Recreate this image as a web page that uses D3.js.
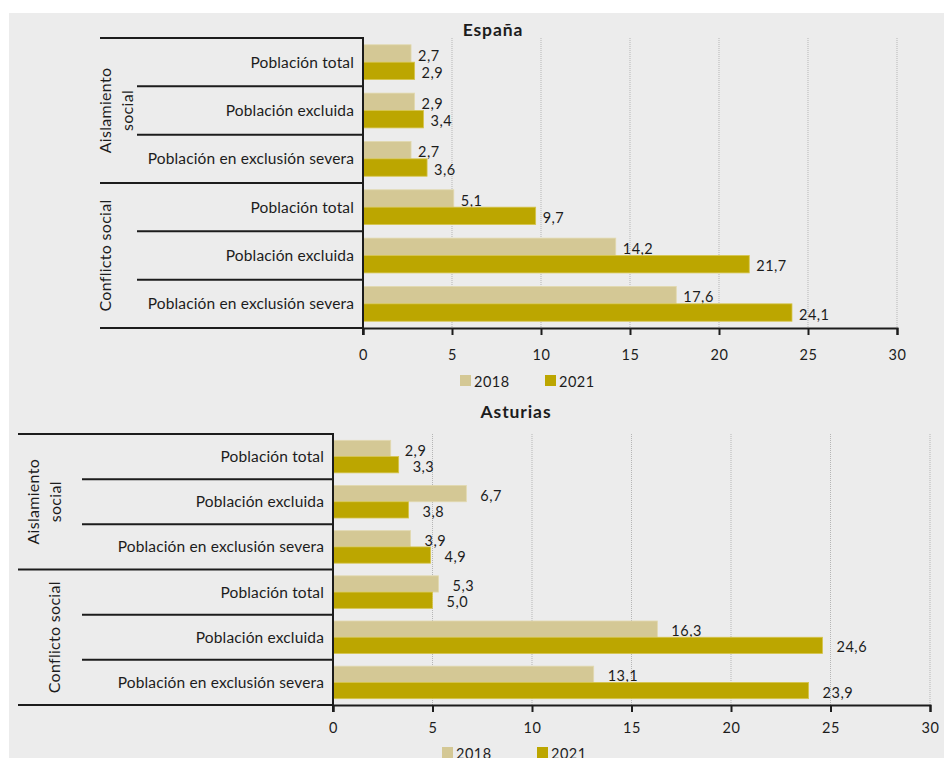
<!DOCTYPE html>
<html>
<head>
<meta charset="utf-8">
<script src="https://cdn.jsdelivr.net/npm/d3@7"></script>
<style>
  html, body { margin: 0; padding: 0; background: #ffffff; }
  svg { display: block; font-family: Lato, "Noto Sans", sans-serif; }
</style>
</head>
<body>
<svg id="chart" width="944" height="758"></svg>
<script>
// ---- Data ----
const categories = ["Población total", "Población excluida", "Población en exclusión severa"];
const groups = [["Aislamiento", "social"], ["Conflicto social"]];
const seriesNames = ["2018", "2021"];
const seriesColors = ["#d4c895", "#bca600"];
const seriesStrokes = ["#e2d9b0", "#d6c54e"];
const tickValues = [0, 5, 10, 15, 20, 25, 30];

const espana2018 = [2.7, 2.9, 2.7, 5.1, 14.2, 17.6];
const espana2021 = [2.9, 3.4, 3.6, 9.7, 21.7, 24.1];
const asturias2018 = [2.9, 6.7, 3.9, 5.3, 16.3, 13.1];
const asturias2021 = [3.3, 3.8, 4.9, 5.0, 24.6, 23.9];

// ---- Layout for each panel ----
const panels = [
  {
    title: "España", titleX: 493, titleY: 36,
    values: [espana2018, espana2021],
    x0: 363, x1: 897, y0: 38, y1: 328,
    groupX: 100, labelX: 137, labelGap: 7,
    groupLabelX: [116, 105],
    tickLabelY: 360,
    legendY: 375, legendX: [460, 545]
  },
  {
    title: "Asturias", titleX: 516, titleY: 418,
    values: [asturias2018, asturias2021],
    x0: 333, x1: 930, y0: 434, y1: 705,
    groupX: 18, labelX: 82, labelGap: 14,
    groupLabelX: [44, 54],
    tickLabelY: 733,
    legendY: 747, legendX: [442, 537]
  }
];

const locale = d3.formatLocale({ decimal: ",", thousands: ".", grouping: [3], currency: ["", "€"] });
const fmt = locale.format(".1f");

const svg = d3.select("#chart");
svg.append("rect").attr("x", 9).attr("y", 13).attr("width", 935).attr("height", 745).attr("fill", "#ececec");

const ink = "#1c1c1c";
const labelFont = 15.5, labelSpacing = 0.15;
const numFont = 14.5, numSpacing = 0.5;

panels.forEach(p => {
  const g = svg.append("g");
  const rows = d3.range(categories.length * groups.length);

  const x = d3.scaleLinear().domain([0, 30]).range([p.x0, p.x1]);
  const y = d3.scaleBand().domain(rows).range([p.y0, p.y1]).paddingInner(0.28).paddingOuter(0.14);
  const ySub = d3.scaleBand().domain([0, 1]).range([0, y.bandwidth()]);
  const rowStep = (p.y1 - p.y0) / rows.length;

  // dotted grid lines
  g.append("g").selectAll("line").data(tickValues.slice(1)).join("line")
    .attr("x1", d => x(d)).attr("x2", d => x(d))
    .attr("y1", p.y0).attr("y2", p.y1)
    .attr("stroke", "#b5b5b5").attr("stroke-width", 1).attr("stroke-dasharray", "1,1");

  // bars and value labels
  p.values.forEach((vals, si) => {
    g.append("g").selectAll("rect").data(vals).join("rect")
      .attr("x", x(0))
      .attr("y", (d, i) => y(i) + ySub(si))
      .attr("width", d => x(d) - x(0))
      .attr("height", ySub.bandwidth())
      .attr("fill", seriesColors[si])
      .attr("stroke", seriesStrokes[si]).attr("stroke-width", 0.8);

    g.append("g").selectAll("text").data(vals).join("text")
      .attr("x", d => x(d) + p.labelGap)
      .attr("y", (d, i) => y(i) + ySub(si) + ySub.bandwidth() / 2 + 2)
      .attr("dy", "0.35em")
      .attr("font-size", numFont).attr("letter-spacing", numSpacing).attr("fill", ink)
      .text(d => fmt(d));
  });

  // category row separators
  const lineStroke = 2;
  rows.forEach(i => {
    const yy = p.y0 + rowStep * (i + 1);
    const isGroupEnd = (i + 1) % categories.length === 0;
    g.append("line")
      .attr("x1", isGroupEnd ? p.groupX : p.labelX).attr("x2", p.x0)
      .attr("y1", yy).attr("y2", yy)
      .attr("stroke", ink).attr("stroke-width", lineStroke);
  });
  g.append("line")
    .attr("x1", p.groupX).attr("x2", p.x0)
    .attr("y1", p.y0).attr("y2", p.y0)
    .attr("stroke", ink).attr("stroke-width", lineStroke);

  // category labels
  g.append("g").selectAll("text").data(rows).join("text")
    .attr("x", p.x0 - 9)
    .attr("y", i => p.y0 + rowStep * (i + 0.5))
    .attr("dy", "0.35em")
    .attr("text-anchor", "end")
    .attr("font-size", labelFont).attr("letter-spacing", labelSpacing).attr("fill", ink)
    .text(i => categories[i % categories.length]);

  // group labels (rotated)
  groups.forEach((lines, gi) => {
    const cy = p.y0 + rowStep * categories.length * (gi + 0.5);
    const t = g.append("text")
      .attr("transform", `translate(${p.groupLabelX[gi]},${cy}) rotate(-90)`)
      .attr("text-anchor", "middle")
      .attr("font-size", 16).attr("letter-spacing", 0.3).attr("fill", ink);
    const lh = 22;
    lines.forEach((ln, li) => {
      t.append("tspan")
        .attr("x", 0)
        .attr("y", (li - (lines.length - 1) / 2) * lh)
        .attr("dy", "0.35em")
        .text(ln);
    });
  });

  // x axis
  const axis = g.append("g")
    .attr("transform", `translate(0,${p.y1})`)
    .call(d3.axisBottom(x).tickValues(tickValues).tickSize(7).tickFormat(d3.format("d")));
  axis.select(".domain").attr("stroke", ink).attr("stroke-width", 2);
  axis.selectAll(".tick line").attr("stroke", ink).attr("stroke-width", 2);
  axis.selectAll(".tick text")
    .attr("y", p.tickLabelY - p.y1).attr("dy", 0)
    .attr("font-family", "Lato, 'Noto Sans', sans-serif")
    .attr("font-size", numFont).attr("letter-spacing", numSpacing).attr("fill", ink);

  // y axis line
  g.append("line")
    .attr("x1", p.x0).attr("x2", p.x0)
    .attr("y1", p.y0 - 1).attr("y2", p.y1 + 7)
    .attr("stroke", ink).attr("stroke-width", 2);

  // title
  g.append("text")
    .attr("x", p.titleX).attr("y", p.titleY)
    .attr("text-anchor", "middle")
    .attr("font-size", 17.5).attr("letter-spacing", 0.9).attr("font-weight", "bold").attr("fill", ink)
    .text(p.title);

  // legend
  seriesNames.forEach((name, si) => {
    g.append("rect")
      .attr("x", p.legendX[si]).attr("y", p.legendY)
      .attr("width", 11).attr("height", 11)
      .attr("fill", seriesColors[si]);
    g.append("text")
      .attr("x", p.legendX[si] + 14).attr("y", p.legendY + 12)
      .attr("font-size", numFont).attr("letter-spacing", numSpacing).attr("fill", ink)
      .text(name);
  });
});
</script>
</body>
</html>
